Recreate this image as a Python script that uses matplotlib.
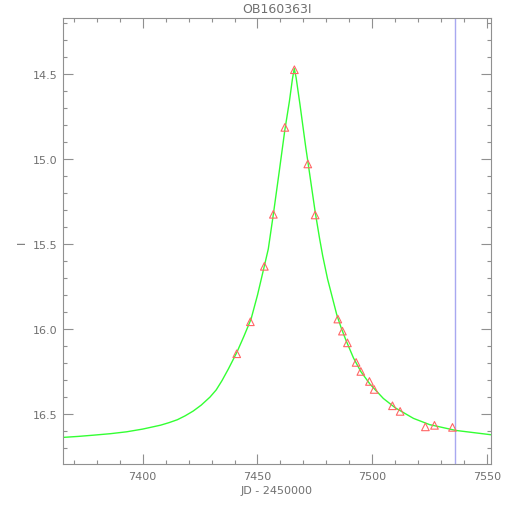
import matplotlib
matplotlib.use('Agg')
import matplotlib.pyplot as plt
from matplotlib.ticker import MultipleLocator

# observed photometry (JD - 2450000, I mag)
obs_jd = [7440.96, 7446.9, 7452.98, 7456.9, 7461.9, 7466.06, 7471.9, 7475.1,
          7484.97, 7486.97, 7489.15, 7492.94, 7494.99, 7498.74, 7500.79,
          7508.76, 7512.1, 7523.1, 7527.06, 7534.9]
obs_mag = [16.145, 15.957, 15.631, 15.325, 14.814, 14.475, 15.029, 15.329,
           15.941, 16.012, 16.081, 16.196, 16.249, 16.308, 16.355,
           16.451, 16.484, 16.575, 16.566, 16.578]

# model curve
mod_jd = [7365.2, 7372.0, 7378.4, 7386.0, 7393.0, 7400.0, 7407.8, 7411.5,
          7415.1, 7418.5, 7422.0, 7425.5, 7429.3, 7432.0, 7434.5, 7437.3,
          7441.0, 7444.0, 7447.2, 7450.0, 7453.0, 7454.7, 7456.9, 7459.4,
          7461.9, 7463.9, 7465.2, 7466.0, 7466.8, 7468.5, 7471.0, 7472.2,
          7475.1, 7477.0, 7478.4, 7480.5, 7482.6, 7484.5, 7486.5, 7488.5,
          7491.8, 7495.0, 7499.0, 7504.8, 7510.0, 7517.9, 7525.0, 7536.4,
          7551.5]
mod_mag = [16.637, 16.631, 16.624, 16.615, 16.604, 16.588, 16.565, 16.550,
           16.533, 16.510, 16.482, 16.447, 16.400, 16.358, 16.304, 16.235,
           16.137, 16.045, 15.941, 15.800, 15.628, 15.529, 15.325, 15.080,
           14.830, 14.660, 14.530, 14.468, 14.520, 14.680, 14.930, 15.040,
           15.310, 15.465, 15.570, 15.705, 15.815, 15.915, 15.995, 16.065,
           16.170, 16.250, 16.324, 16.408, 16.463, 16.525, 16.562, 16.596,
           16.621]

t_now = 7536.2
title = 'OB160363I'

gray = '#909090'
txt = '#707070'

fig = plt.figure(figsize=(5.1, 5.1), dpi=100)
ax = fig.add_axes([0.123, 0.088, 0.839, 0.875])

ax.plot(mod_jd, mod_mag, color='#33ff33', lw=1.0, zorder=2)
ax.scatter(obs_jd, obs_mag, marker='^', s=30, facecolors='none',
           edgecolors='#ff6666', linewidths=0.8, zorder=3)
ax.axvline(t_now, color='#a8a8f0', lw=1.0, zorder=1)

ax.set_xlim(7365.2, 7551.5)
ax.set_ylim(16.794, 14.17)

ax.xaxis.set_major_locator(MultipleLocator(50))
ax.xaxis.set_minor_locator(MultipleLocator(10))
ax.yaxis.set_major_locator(MultipleLocator(0.5))
ax.yaxis.set_minor_locator(MultipleLocator(0.1))
ax.yaxis.set_major_formatter(plt.FormatStrFormatter('%.1f'))

ax.tick_params(which='both', direction='in', top=True, right=True,
               color=gray, labelcolor=txt, labelsize=8, width=0.8)
ax.tick_params(which='major', length=7, pad=5)
ax.tick_params(axis='y', which='major', pad=4)
ax.tick_params(which='minor', length=3.2)
for s in ax.spines.values():
    s.set_color(gray)
    s.set_linewidth(0.8)

ax.set_title(title, color=txt, fontsize=9, pad=4)
ax.set_xlabel('JD - 2450000', color=txt, fontsize=8, labelpad=3)
ax.set_ylabel('I', color=txt, fontsize=8, labelpad=4)

fig.savefig('out.png', dpi=100)
